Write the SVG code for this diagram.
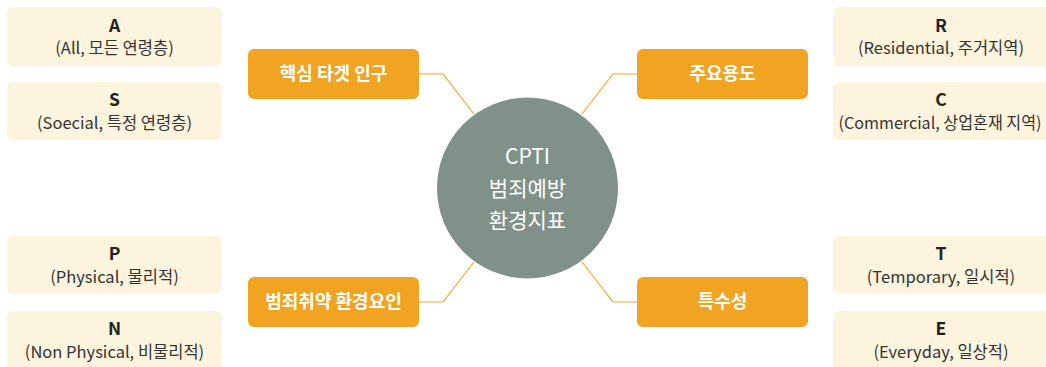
<svg xmlns="http://www.w3.org/2000/svg" width="1046" height="367" viewBox="0 0 1046 367">
<style>
text{font-family:"Noto Sans CJK KR","Noto Sans",sans-serif;text-anchor:middle}
.cream{fill:#FDF4DD}
.orange{fill:#F0A422}
.hd{font-size:17.5px;font-weight:bold;fill:#222}
.sub{font-size:16.5px;fill:#333}
.ot{font-size:18px;font-weight:bold;fill:#fff}
.ct{font-size:21px;fill:#fff}
.conn{fill:none;stroke:#F0A422;stroke-width:1.2}
</style>
<rect width="1046" height="367" fill="#fff"/>
<g id="connectors">
<polyline class="conn" points="419,74 443,74 474,114"/>
<polyline class="conn" points="637,74 613,74 582,114"/>
<polyline class="conn" points="419,302 443,302 474,262"/>
<polyline class="conn" points="637,302 613,302 582,262"/>
</g>
<g id="center">
<circle cx="527.5" cy="188" r="90.5" fill="#7F9189"/>
<text class="ct" x="527.5" y="164">CPTI</text>
<text class="ct" x="527.5" y="196">범죄예방</text>
<text class="ct" x="527.5" y="228">환경지표</text>
</g>
<g id="n-target"><rect class="orange" x="248" y="49" width="171" height="50" rx="6"/><text class="ot" x="333.5" y="80">핵심 타겟 인구</text></g>
<g id="n-use"><rect class="orange" x="637" y="49" width="171" height="50" rx="6"/><text class="ot" x="722.5" y="80">주요용도</text></g>
<g id="n-env"><rect class="orange" x="248" y="277" width="171" height="50" rx="6"/><text class="ot" x="333.5" y="308">범죄취약 환경요인</text></g>
<g id="n-spec"><rect class="orange" x="637" y="277" width="171" height="50" rx="6"/><text class="ot" x="722.5" y="308">특수성</text></g>
<g id="n-A"><rect class="cream" x="7" y="7" width="215" height="59" rx="6"/><text class="hd" x="114.5" y="32">A</text><text class="sub" x="114.5" y="54">(All, 모든 연령층)</text></g>
<g id="n-S"><rect class="cream" x="7" y="82" width="215" height="58" rx="6"/><text class="hd" x="114.5" y="106">S</text><text class="sub" x="114.5" y="129">(Soecial, 특정 연령층)</text></g>
<g id="n-P"><rect class="cream" x="7" y="236" width="215" height="58" rx="6"/><text class="hd" x="114.5" y="260">P</text><text class="sub" x="114.5" y="283">(Physical, 물리적)</text></g>
<g id="n-N"><rect class="cream" x="7" y="311" width="215" height="62" rx="6"/><text class="hd" x="114.5" y="335">N</text><text class="sub" x="114.5" y="358">(Non Physical, 비물리적)</text></g>
<g id="n-R"><rect class="cream" x="833" y="7" width="220" height="59" rx="6"/><text class="hd" x="941" y="32">R</text><text class="sub" x="941" y="54">(Residential, 주거지역)</text></g>
<g id="n-C"><rect class="cream" x="833" y="82" width="220" height="58" rx="6"/><text class="hd" x="941" y="106">C</text><text class="sub" x="940" y="129" textLength="203" lengthAdjust="spacingAndGlyphs">(Commercial, 상업혼재 지역)</text></g>
<g id="n-T"><rect class="cream" x="833" y="236" width="220" height="58" rx="6"/><text class="hd" x="941" y="260">T</text><text class="sub" x="941" y="283">(Temporary, 일시적)</text></g>
<g id="n-E"><rect class="cream" x="833" y="311" width="220" height="62" rx="6"/><text class="hd" x="941" y="335">E</text><text class="sub" x="941" y="358">(Everyday, 일상적)</text></g>
</svg>
